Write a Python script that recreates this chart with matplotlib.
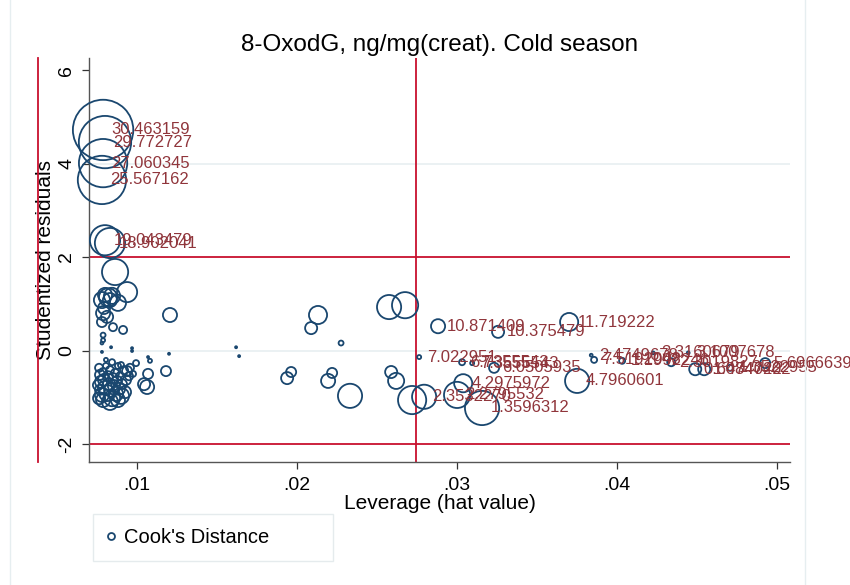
import numpy as np
import matplotlib.pyplot as plt
from matplotlib.lines import Line2D
from matplotlib.ticker import FuncFormatter

plt.rcParams['font.family'] = ['Liberation Sans', 'DejaVu Sans']
plt.rcParams['axes.unicode_minus'] = False

# leverage, studentized residual, Cook's D and the 8-OxodG value shown as label
lev = [0.00788, 0.0080, 0.00788, 0.00781, 0.0080, 0.00831,
       0.00863, 0.00938, 0.00881, 0.00819, 0.00781, 0.0080, 0.00831, 0.00844,
       0.00788, 0.00813, 0.00781, 0.00794, 0.0085, 0.00913, 0.00788, 0.00788,
       0.00781, 0.00838, 0.00969, 0.00969, 0.00781, 0.01206, 0.01069, 0.01081,
       0.00994, 0.0120, 0.01181, 0.01069, 0.01044, 0.01063, 0.00938,
       0.01619, 0.01638, 0.02131, 0.02088, 0.02275, 0.02575, 0.02675,
       0.01963, 0.01938, 0.02219, 0.02194, 0.02331, 0.02588, 0.02619, 0.02719,
       0.00763, 0.00769, 0.00775, 0.00769, 0.00781, 0.00788, 0.00794, 0.0080,
       0.00806, 0.00813, 0.00819, 0.00825, 0.00831, 0.00838, 0.00844, 0.0085,
       0.00856, 0.00863, 0.00869, 0.00875, 0.00881, 0.00888, 0.00894, 0.009,
       0.00906, 0.00919, 0.00925, 0.00756, 0.00763, 0.00788, 0.00831, 0.00881,
       0.00806, 0.00844, 0.009, 0.00931, 0.0095, 0.00956, 0.00975,
       0.02881, 0.03256, 0.0370, 0.02763, 0.03031, 0.03094, 0.03231, 0.03038,
       0.02794, 0.0300, 0.03156, 0.0375, 0.03838, 0.03856, 0.04031, 0.04225,
       0.04444, 0.04338, 0.04488, 0.04544, 0.04706, 0.04925]

rstu = [4.72, 4.46, 4.01, 3.65, 2.36, 2.30,
        1.68, 1.25, 1.02, 1.14, 1.08, 1.19, 1.08, 1.17,
        0.80, 0.72, 0.61, 0.91, 0.50, 0.44, 0.33, 0.22,
        0.16, 0.07, 0.05, -0.01, -0.03, 0.76, -0.14, -0.22,
        -0.27, -0.07, -0.44, -0.50, -0.72, -0.78, -0.44,
        0.07, -0.12, 0.76, 0.48, 0.16, 0.93, 0.97,
        -0.46, -0.59, -0.48, -0.65, -0.97, -0.46, -0.65, -1.06,
        -0.37, -0.52, -0.67, -0.84, -0.95, -0.46, -0.63, -0.80,
        -0.33, -0.91, -0.55, -0.72, -0.42, -0.84, -1.02, -0.59,
        -0.76, -0.48, -0.93, -0.65, -0.33, -0.82, -0.55, -0.97,
        -0.72, -0.42, -0.89, -0.74, -1.02, -1.06, -1.10, -1.06,
        -0.20, -0.25, -0.31, -0.63, -0.55, -0.37, -0.50,
        0.52, 0.40, 0.61, -0.14, -0.25, -0.27, -0.37, -0.70,
        -0.99, -0.95, -1.23, -0.65, -0.10, -0.20, -0.22, -0.05,
        -0.05, -0.25, -0.40, -0.40, -0.37, -0.27]

cooksd = [0.09, 0.0676, 0.0576, 0.0576, 0.0225, 0.0225,
          0.0169, 0.01, 0.0064, 0.0081, 0.0064, 0.0049, 0.0049, 0.0064,
          0.0049, 0.0036, 0.0025, 0.0036, 0.0016, 0.0016, 0.0006, 0.0004,
          0.0002, 0.0001, 0.0001, 0.0001, 0.0001, 0.0049, 0.0001, 0.0004,
          0.0009, 0.0001, 0.0025, 0.0025, 0.0036, 0.0049, 0.0025,
          0.0001, 0.0001, 0.0081, 0.0036, 0.0006, 0.0144, 0.0169,
          0.0025, 0.0036, 0.0025, 0.0049, 0.0144, 0.0036, 0.0064, 0.0196,
          0.0016, 0.0025, 0.0036, 0.0025, 0.0049, 0.0016, 0.0036, 0.0049,
          0.0009, 0.0064, 0.0025, 0.0036, 0.0016, 0.0049, 0.0064, 0.0025,
          0.0036, 0.0016, 0.0049, 0.0025, 0.0009, 0.0036, 0.0016, 0.0064,
          0.0025, 0.0016, 0.0036, 0.0025, 0.0036, 0.0049, 0.0064, 0.0049,
          0.0004, 0.0009, 0.0009, 0.0025, 0.0016, 0.0016, 0.0009,
          0.0049, 0.0036, 0.0081, 0.0004, 0.0009, 0.0004, 0.0025, 0.0081,
          0.0144, 0.0169, 0.0289, 0.0144, 0.0002, 0.0009, 0.0009, 0.0002,
          0.0002, 0.0016, 0.0036, 0.0036, 0.0009, 0.0025]

# only the outlying / high-leverage observations carry a label
labels = ["30.463159", "29.772727", "27.060345", "25.567162", "19.043479", "18.902041"]
labels += [""] * 85
labels += ["10.871409", "10.375479", "11.719222", "7.022951", "6.7355543", "7.3555543",
           "6.0505935", "4.2975972", "2.3532270", "2.2795532", "1.3596312", "4.7960601",
           "2.4749678", "7.5192048", "1.1992246", "3.3160679", "3.1007678", "2.3019827",
           "0.6474022", "1.0847402", "1.3522955", "5.69666398"]

lev_cut = 0.02744
yticks = [-2, 0, 2, 4, 6]
xticks = [0.01, 0.02, 0.03, 0.04, 0.05]

navy = '#1a476f'
lab_col = '#90353b'
red = '#c8102e'

fig = plt.figure(figsize=(8.5, 5.85), dpi=100)
ax = fig.add_axes([0.1047, 0.2103, 0.8247, 0.6906])

for yv in [0, 4]:
    ax.axhline(yv, color='#e8eff1', lw=1.2, zorder=0)

ax.scatter(lev, rstu, s=np.array(cooksd) * 21000, facecolors='none',
           edgecolors=navy, linewidths=1.3, zorder=3, clip_on=False)

for x, y, t in zip(lev, rstu, labels):
    if t:
        ax.annotate(t, (x, y), xytext=(6, 0), textcoords='offset points',
                    va='center', ha='left', fontsize=12, color=lab_col,
                    annotation_clip=False, zorder=4)

ax.axhline(2, color=red, lw=1.3, zorder=2)
ax.axhline(-2, color=red, lw=1.3, zorder=2)
ax.axvline(lev_cut, color=red, lw=1.3, zorder=2)
# extra line left of the y axis
ax.plot([-0.0728, -0.0728], [0, 1], transform=ax.transAxes, color=red,
        lw=1.3, clip_on=False)

ax.set_xlim(0.007, 0.0508)
ax.set_ylim(-2.385, 6.26)
ax.set_xticks(xticks)
ax.set_yticks(yticks)
ax.xaxis.set_major_formatter(FuncFormatter(lambda v, p: f"{v:.2f}".lstrip('0')))
ax.tick_params(axis='both', labelsize=14, color='#333333', length=5, width=0.9)
ax.tick_params(axis='y', pad=5)
ax.tick_params(axis='x', pad=6)
for lbl in ax.get_yticklabels():
    lbl.set_rotation(90)
    lbl.set_va('center')

for side in ['top', 'right']:
    ax.spines[side].set_visible(False)
for side in ['left', 'bottom']:
    ax.spines[side].set_color('#555555')
    ax.spines[side].set_linewidth(1.0)

ax.set_title("8-OxodG, ng/mg(creat). Cold season", fontsize=17.5, pad=5)
ax.set_xlabel("Leverage (hat value)", fontsize=15, labelpad=0)
ax.set_ylabel("Studentized residuals", fontsize=15, labelpad=2)

# faint outer frame lines of the graph region
for fx in [10 / 850, 805 / 850]:
    fig.add_artist(Line2D([fx, fx], [0, 1], transform=fig.transFigure,
                          color='#e6eef0', lw=1.0))

handle = Line2D([], [], marker='o', linestyle='none', markersize=5,
                markerfacecolor='none', markeredgecolor=navy, markeredgewidth=1.3)
fig.legend([handle], ["Cook's Distance"], loc='lower left',
           bbox_to_anchor=(93 / 850, 1 - 561 / 585, 240 / 850, 42 / 585),
           mode='expand', fontsize=14.5, frameon=True, fancybox=False,
           edgecolor='#dfe7e9', handletextpad=0.45, handlelength=0.4,
           borderaxespad=0, borderpad=0.7)

fig.savefig('out.png', dpi=100)
